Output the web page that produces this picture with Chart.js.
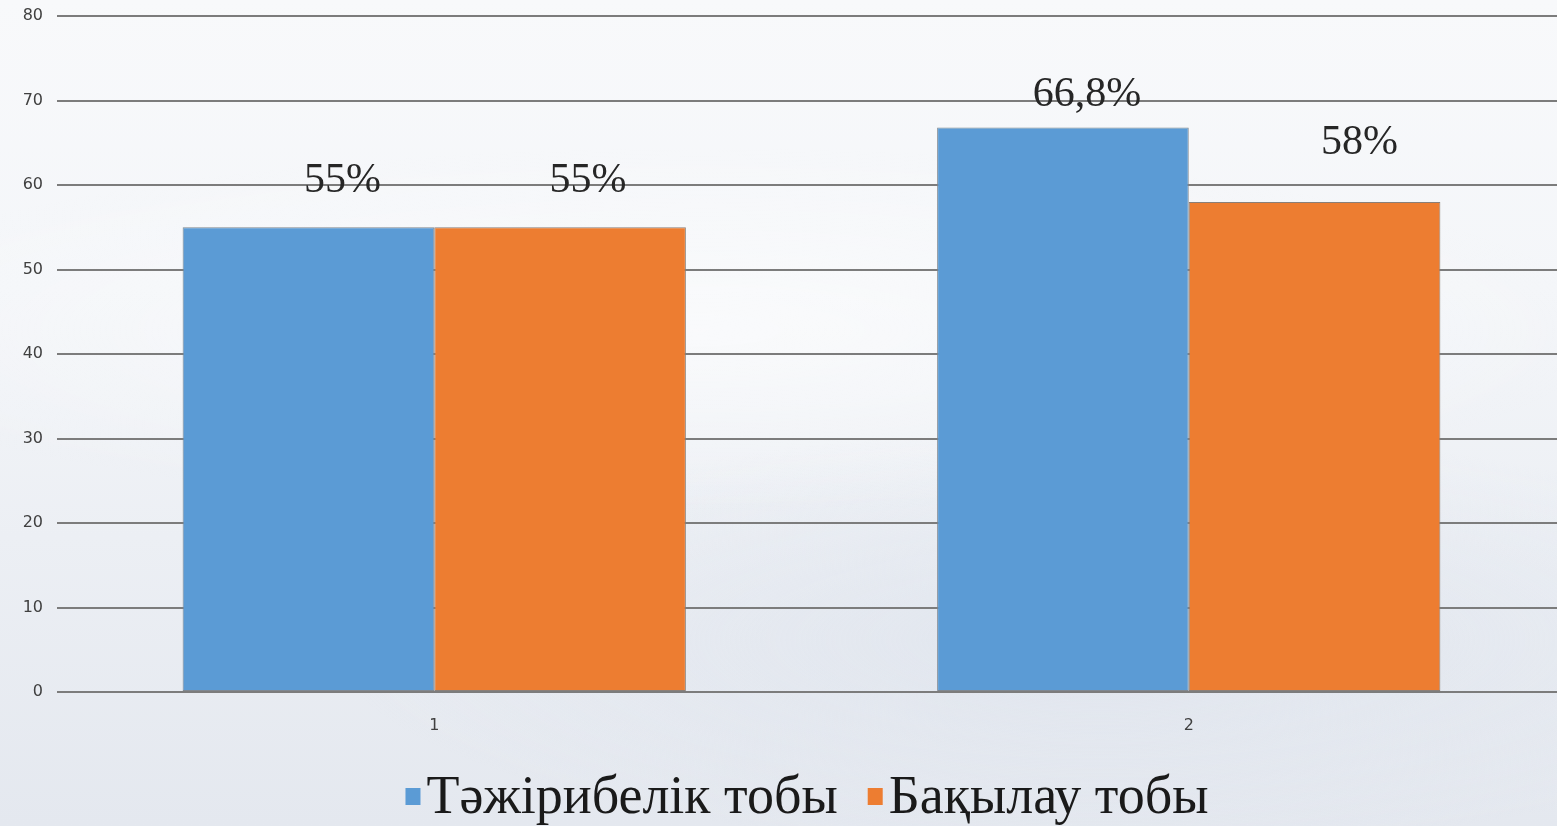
<!DOCTYPE html>
<html><head><meta charset="utf-8">
<script src="https://cdn.jsdelivr.net/npm/chart.js@4/dist/chart.umd.min.js"></script>
<style>
html,body{margin:0;padding:0;width:1557px;height:826px;overflow:hidden;}
body{
  background:
    radial-gradient(ellipse 1300px 260px at 700px 330px, rgba(255,255,255,0.55) 0%, rgba(255,255,255,0) 70%),
    radial-gradient(ellipse 1100px 300px at 1100px 640px, rgba(220,226,236,0.6) 0%, rgba(220,226,236,0) 70%),
    linear-gradient(180deg, #f8f9fb 0%, #f4f6f9 35%, #eceff4 65%, #e4e8ef 100%);
}
#wrap{position:absolute;left:0;top:0;width:1566px;height:826px;}
</style></head>
<body><div id="wrap"><canvas id="c"></canvas></div>
<script>
// ---- data ----
const categories = ['1', '2'];
const seriesNames = ['Тәжірибелік тобы', 'Бақылау тобы'];
const experimentalValues = [55, 66.8];
const controlValues = [55, 58];
const yTickValues = [0, 10, 20, 30, 40, 50, 60, 70, 80];

// ---- styles ----
const colors = ['#5b9bd5', '#ed7d31'];
// label offsets (dx from bar centre, dy of text baseline from bar top)
const labelOffsets = [[[34, -35], [24, -22]], [[28, -35], [45, -48]]];

function fmtPct(v) { return String(v).replace('.', ',') + '%'; }

const dataLabelPlugin = {
  id: 'dataLabelsCustom',
  afterDatasetsDraw(chart) {
    const ctx = chart.ctx;
    ctx.save();
    ctx.font = '42px "Liberation Serif", "Times New Roman", serif';
    ctx.fillStyle = '#262626';
    ctx.textAlign = 'center';
    ctx.textBaseline = 'alphabetic';
    chart.data.datasets.forEach((ds, i) => {
      const meta = chart.getDatasetMeta(i);
      meta.data.forEach((bar, j) => {
        const off = labelOffsets[i][j];
        ctx.fillText(fmtPct(ds.data[j]), bar.x + off[0], bar.y + off[1]);
      });
    });
    ctx.restore();
  }
};

const legendPlugin = {
  id: 'legendCustom',
  afterDraw(chart) {
    const ctx = chart.ctx;
    ctx.save();
    ctx.font = '54px "Liberation Serif", "Times New Roman", serif';
    ctx.textBaseline = 'alphabetic';
    ctx.textAlign = 'left';
    const box = 15, gapBox = 6, gapItem = 30;
    const items = chart.data.datasets.map((ds, i) => ({ text: ds.label, color: colors[i], w: ctx.measureText(ds.label).width }));
    const total = items.reduce((s, it) => s + box + gapBox + it.w, 0) + gapItem * (items.length - 1);
    const cx = 807;
    let x = cx - total / 2;
    const base = 813;
    items.forEach(it => {
      ctx.fillStyle = it.color;
      ctx.fillRect(x, base - 25, box, box + 2);
      ctx.fillStyle = '#1a1a1a';
      ctx.fillText(it.text, x + box + gapBox, base);
      x += box + gapBox + it.w + gapItem;
    });
    ctx.restore();
  }
};

new Chart(document.getElementById('c'), {
  type: 'bar',
  data: {
    labels: categories,
    datasets: [
      { label: seriesNames[0], data: experimentalValues, backgroundColor: colors[0], borderColor: '#7f8790', borderWidth: 1, borderSkipped: false },
      { label: seriesNames[1], data: controlValues, backgroundColor: colors[1], borderColor: '#8a7f78', borderWidth: 1, borderSkipped: false }
    ]
  },
  options: {
    responsive: true,
    maintainAspectRatio: false,
    animation: false,
    layout: { padding: { top: 16, bottom: 74, left: 0, right: 0 } },
    datasets: { bar: { categoryPercentage: 0.667, barPercentage: 1 } },
    plugins: { legend: { display: false }, tooltip: { enabled: false } },
    scales: {
      x: {
        grid: { display: false },
        border: { display: false },
        ticks: { padding: 16, color: '#404040', font: { family: 'DejaVu Sans', size: 16 } },
        afterFit(s) { s.height = 60; }
      },
      y: {
        min: 0, max: 80,
        afterBuildTicks(s) { s.ticks = yTickValues.map(v => ({ value: v })); },
        grid: { color: '#7c7c7c', lineWidth: 2, drawTicks: false },
        border: { display: false },
        ticks: { padding: 14, color: '#404040', font: { family: 'DejaVu Sans', size: 16 } },
        afterFit(s) { s.width = 57; s.paddingTop = 0; s.paddingBottom = 0; }
      }
    }
  },
  plugins: [dataLabelPlugin, legendPlugin]
});
</script>
</body></html>
